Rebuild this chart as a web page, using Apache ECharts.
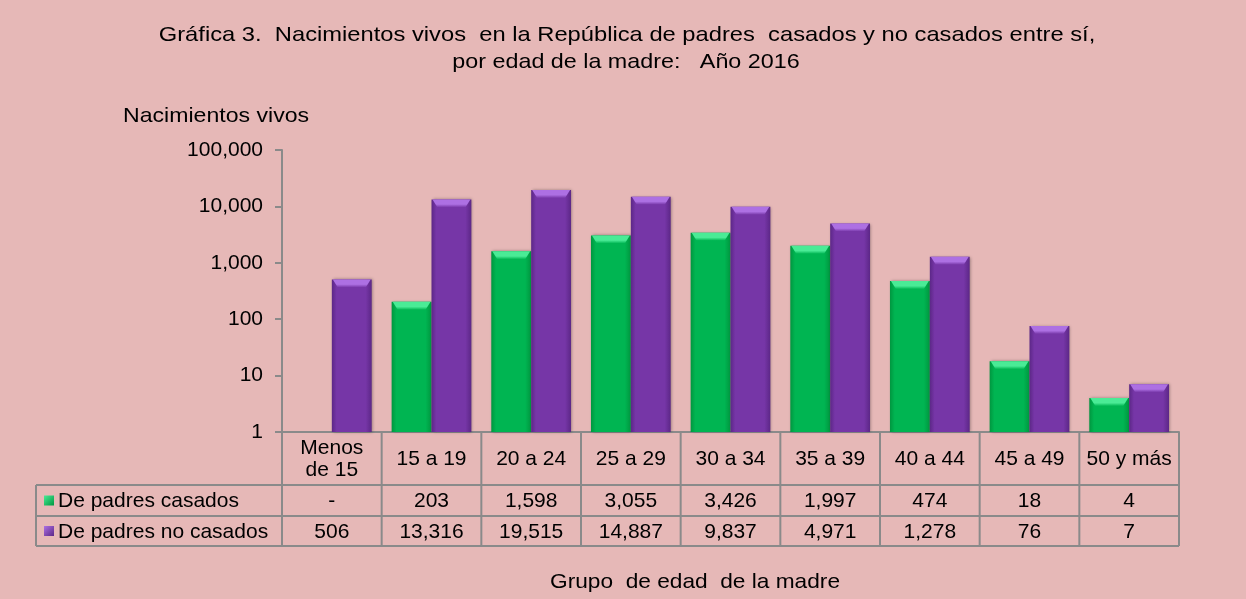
<!DOCTYPE html>
<html>
<head>
<meta charset="utf-8">
<script src="https://cdn.jsdelivr.net/npm/echarts@6/dist/echarts.min.js"></script>
<style>
  html, body { margin: 0; padding: 0; background: #e6b8b7; }
  #main { width: 1246px; height: 599px; }
</style>
</head>
<body>
<div id="main"></div>
<script>
// data
let categories = ['Menos\nde 15', '15 a 19', '20 a 24', '25 a 29', '30 a 34', '35 a 39', '40 a 44', '45 a 49', '50 y más'];
let casados = [null, 203, 1598, 3055, 3426, 1997, 474, 18, 4];
let noCasados = [506, 13316, 19515, 14887, 9837, 4971, 1278, 76, 7];
let seriesNames = ['De padres casados', 'De padres no casados'];
let yTicks = [1, 10, 100, 1000, 10000, 100000];

let FONT = '"Liberation Sans", Arial, sans-serif';
let gridLeft = 282, gridRight = 1179, gridTop = 150, gridBottom = 432;
let rowY = [432, 485, 516, 546];
let legendX = 36;
let lineColor = '#8a8a8a';

let green = { main: '#00b552', edge: '#00963f', top: '#4aeb96' };
let purple = { main: '#7636a7', edge: '#5c2787', top: '#ad70e3' };

function barFill(c) {
  return new echarts.graphic.LinearGradient(0, 0, 1, 0, [
    { offset: 0, color: c.edge },
    { offset: 0.12, color: c.main },
    { offset: 0.85, color: c.main },
    { offset: 1, color: c.edge }
  ]);
}

function fmt(v) {
  return v == null ? '-' : v.toLocaleString('en-US');
}

// bevel on the top of each bar, positioned through the axes
function bevel(side, c) {
  return function (params, api) {
    let v = api.value(1);
    if (v == null || isNaN(v)) return;
    let p = api.coord([api.value(0), v]);
    let cw = api.size([1, 1])[0];
    let w = cw * 0.4;
    let x0 = p[0] + (side < 0 ? -w : 0);
    let x1 = x0 + w;
    let y = p[1];
    let h = Math.min(8, api.coord([api.value(0), 1])[1] - y);
    return {
      type: 'polygon',
      shape: { points: [[x0 + 1, y], [x1 - 1, y], [x1 - 6, y + h], [x0 + 6, y + h]] },
      style: {
        fill: new echarts.graphic.LinearGradient(0, 0, 0, 1, [
          { offset: 0, color: c.top },
          { offset: 0.6, color: c.top },
          { offset: 1, color: c.main }
        ])
      },
      silent: true
    };
  };
}

let myChart = echarts.init(document.getElementById('main'));

let cw = (gridRight - gridLeft) / categories.length;
let graphics = [];

function label(text, x, y, align, sx) {
  return {
    type: 'text', x: x, y: y, scaleX: sx || 1,
    style: { text: text, textAlign: align, textVerticalAlign: 'middle', font: '21px ' + FONT, lineHeight: 22, fill: '#000' }
  };
}

// title and axis texts
graphics.push(label('Gráfica 3.  Nacimientos vivos  en la República de padres  casados y no casados entre sí,', 627, 35, 'center', 1.13));
graphics.push(label('por edad de la madre:   Año 2016', 626, 62, 'center', 1.11));
graphics.push(label('Nacimientos vivos', 123, 116, 'left', 1.1));
graphics.push(label('Grupo  de edad  de la madre', 695, 582, 'center', 1.08));

// data table under the axis
let lineStyle = { stroke: lineColor, lineWidth: 2 };
for (let r = 1; r < rowY.length; r++) {
  graphics.push({ type: 'line', shape: { x1: legendX, y1: rowY[r], x2: gridRight, y2: rowY[r] }, style: lineStyle });
}
graphics.push({ type: 'line', shape: { x1: legendX, y1: rowY[1], x2: legendX, y2: rowY[3] }, style: lineStyle });
for (let k = 0; k <= categories.length; k++) {
  let x = gridLeft + k * cw;
  graphics.push({ type: 'line', shape: { x1: x, y1: rowY[0], x2: x, y2: rowY[3] }, style: lineStyle });
}
let rows = [casados, noCasados];
categories.forEach(function (c, i) {
  let cx = gridLeft + (i + 0.5) * cw;
  graphics.push(label(c, cx, (rowY[0] + rowY[1]) / 2 + 1, 'center'));
  rows.forEach(function (arr, r) {
    graphics.push(label(fmt(arr[i]), cx, (rowY[r + 1] + rowY[r + 2]) / 2 + 1, 'center'));
  });
});
[green, purple].forEach(function (c, r) {
  let yc = (rowY[r + 1] + rowY[r + 2]) / 2;
  graphics.push({
    type: 'rect', shape: { x: 44, y: yc - 5, width: 10, height: 10 },
    style: { fill: new echarts.graphic.LinearGradient(0, 0, 1, 1, [{ offset: 0, color: c.top }, { offset: 1, color: c.edge }]) }
  });
  graphics.push(label(seriesNames[r], 58, yc + 1, 'left'));
});

let option = {
  backgroundColor: '#e6b8b7',
  animation: false,
  grid: { left: gridLeft, right: 1246 - gridRight, top: gridTop, bottom: 599 - gridBottom },
  xAxis: {
    type: 'category',
    data: categories,
    axisLine: { lineStyle: { color: lineColor, width: 2 } },
    axisTick: { show: false },
    axisLabel: { show: false }
  },
  yAxis: {
    type: 'log',
    logBase: 10,
    min: yTicks[0],
    max: yTicks[yTicks.length - 1],
    axisLine: { show: true, lineStyle: { color: lineColor, width: 2 } },
    axisTick: { show: true, length: 7, lineStyle: { color: lineColor, width: 2 } },
    splitLine: { show: false },
    minorTick: { show: false },
    axisLabel: {
      margin: 19,
      color: '#000',
      fontFamily: FONT,
      fontSize: 21,
      formatter: function (v) { return Math.round(v).toLocaleString('en-US'); }
    }
  },
  series: [
    {
      name: seriesNames[0], type: 'bar', data: casados,
      barGap: '0%', barCategoryGap: '20%',
      itemStyle: { color: barFill(green), shadowBlur: 3, shadowColor: 'rgba(0,0,0,0.35)', shadowOffsetX: 1 }
    },
    {
      name: seriesNames[1], type: 'bar', data: noCasados,
      barGap: '0%', barCategoryGap: '20%',
      itemStyle: { color: barFill(purple), shadowBlur: 3, shadowColor: 'rgba(0,0,0,0.35)', shadowOffsetX: 1 }
    },
    {
      type: 'custom', renderItem: bevel(-1, green), silent: true, z: 5,
      data: casados.map(function (v, i) { return [i, v]; })
    },
    {
      type: 'custom', renderItem: bevel(1, purple), silent: true, z: 5,
      data: noCasados.map(function (v, i) { return [i, v]; })
    }
  ],
  graphic: graphics
};

myChart.setOption(option);
</script>
</body>
</html>
